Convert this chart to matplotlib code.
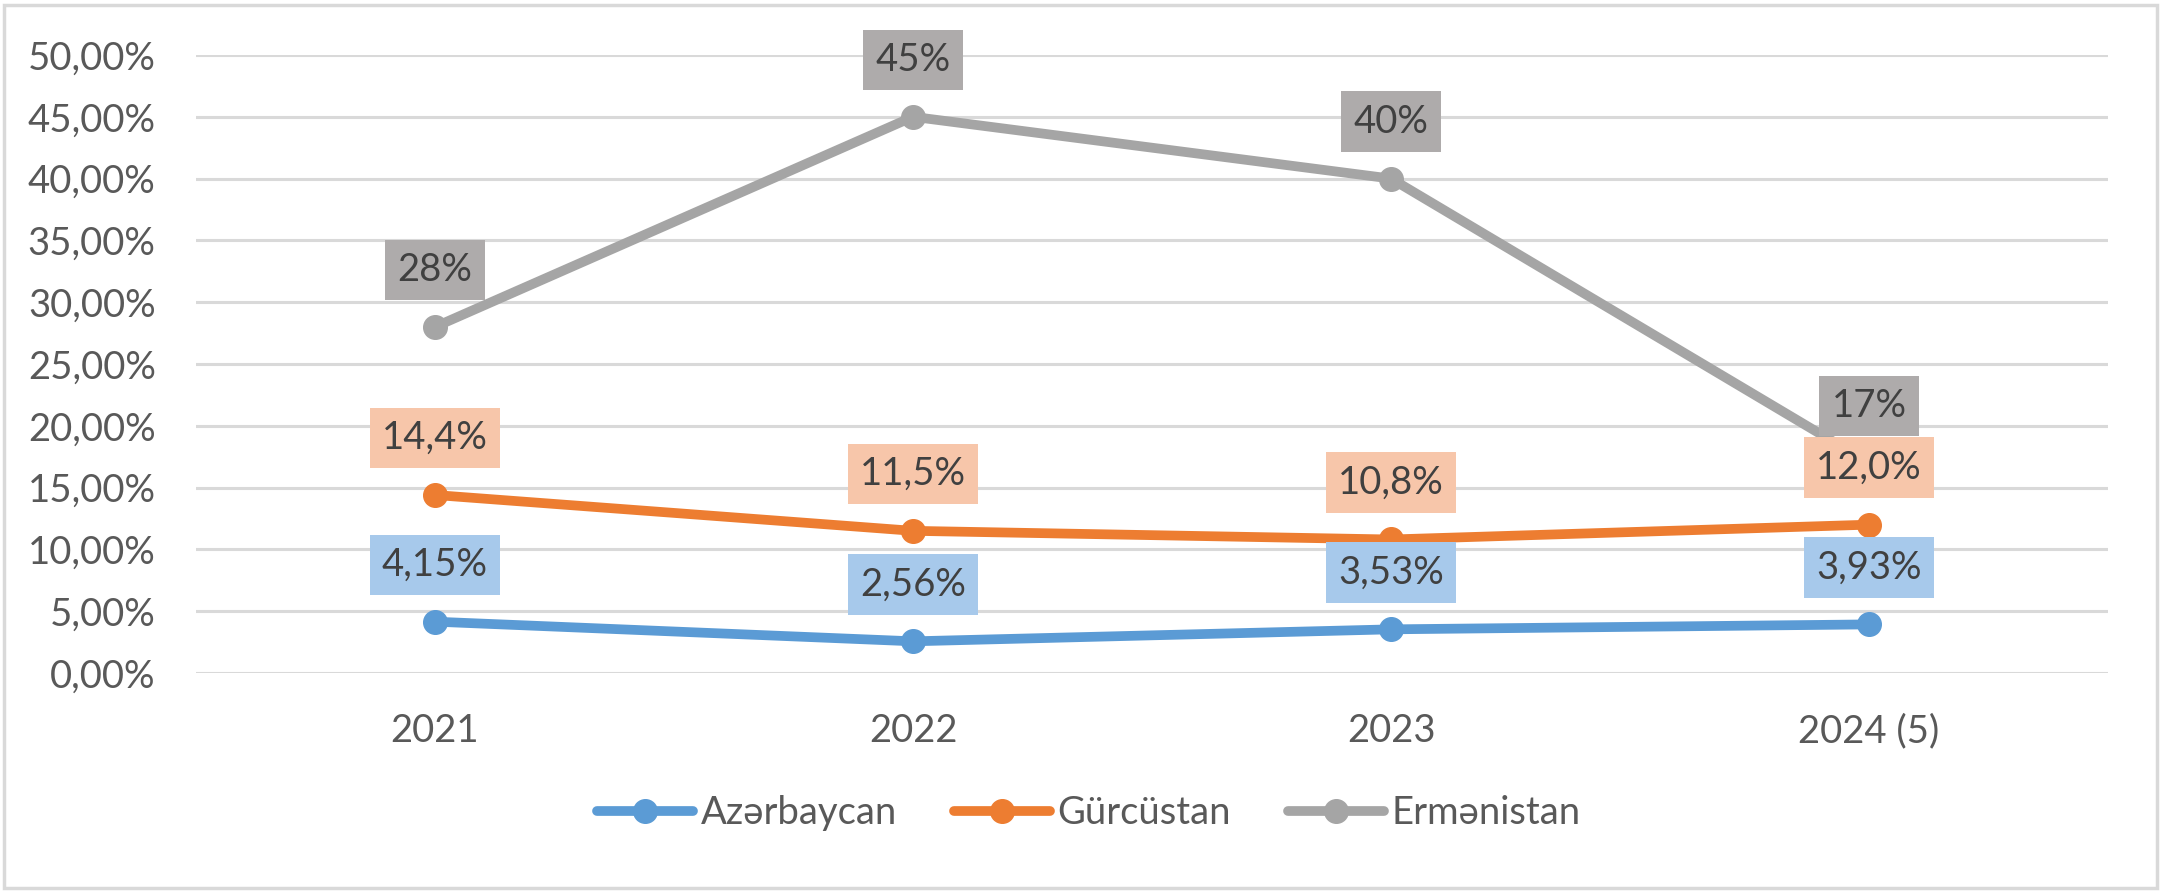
import matplotlib.pyplot as plt
from matplotlib.patches import Rectangle
from matplotlib.ticker import FuncFormatter

plt.rcParams['font.family'] = ['Lato', 'DejaVu Sans']

years = ['2021', '2022', '2023', '2024 (5)']
azerbaycan = [4.15, 2.56, 3.53, 3.93]
gurcustan = [14.4, 11.5, 10.8, 12.0]
ermenistan = [28, 45, 40, 17]

az_labels = ['4,15%', '2,56%', '3,53%', '3,93%']
gu_labels = ['14,4%', '11,5%', '10,8%', '12,0%']
er_labels = ['28%', '45%', '40%', '17%']

series = [
    ('Azərbaycan', azerbaycan, az_labels, '#5B9BD5', '#A7C9EB'),
    ('Gürcüstan', gurcustan, gu_labels, '#ED7D31', '#F7C6AA'),
    ('Ermənistan', ermenistan, er_labels, '#A5A5A5', '#AEABAB'),
]

fig = plt.figure(figsize=(21.63, 8.93), dpi=100)
ax = fig.add_axes([0.0906, 0.2464, 0.884, 0.692])

x = range(len(years))
for name, vals, labs, col, boxcol in series:
    v = [a / 100 for a in vals]
    ax.plot(x, v, color=col, lw=7, marker='o', markersize=17,
            solid_capstyle='round', label=name, zorder=3)
    for xi, yi, t in zip(x, v, labs):
        ax.annotate(t, (xi, yi), xytext=(0, 41), textcoords='offset points',
                    ha='center', va='center', fontsize=27.5, color='#404040',
                    bbox=dict(boxstyle='square,pad=0.32', fc=boxcol, ec='none'),
                    zorder=4)

ax.set_xlim(-0.5, 3.5)
ax.set_ylim(0, 0.5)
ax.set_xticks(list(x))
ax.set_xticklabels(years)
ax.set_yticks([i * 0.05 for i in range(11)])
ax.yaxis.set_major_formatter(FuncFormatter(lambda v, p: f'{v*100:.2f}%'.replace('.', ',')))
ax.tick_params(axis='both', length=0, labelsize=27.5, labelcolor='#595959', pad=29)
ax.grid(axis='y', color='#D9D9D9', lw=2.2)
ax.set_axisbelow(True)
for s in ax.spines.values():
    s.set_visible(False)

ax.legend(loc='center', bbox_to_anchor=(0.467, -0.227), ncol=3, frameon=False,
          fontsize=27.5, labelcolor='#595959', handlelength=2.5,
          handletextpad=0.2, columnspacing=1.5)

fig.patches.append(Rectangle((0.002, 0.006), 0.995, 0.988, transform=fig.transFigure,
                             fill=False, ec='#D9D9D9', lw=2.5))

fig.savefig('out.png', dpi=100)
